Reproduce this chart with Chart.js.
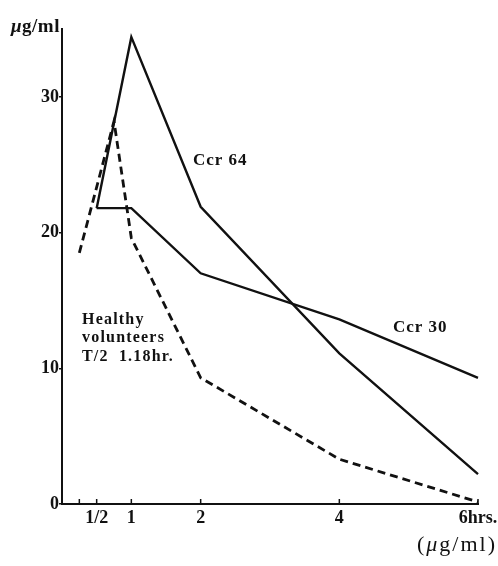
<!DOCTYPE html>
<html>
<head>
<meta charset="utf-8">
<script src="https://cdn.jsdelivr.net/npm/chart.js@4.4.1/dist/chart.umd.min.js"></script>
<style>
  html, body { margin: 0; padding: 0; background: #fff; }
  #wrap { position: relative; width: 498px; height: 566px; }
</style>
</head>
<body>
<div id="wrap"><canvas id="c" width="498" height="566"></canvas></div>
<script>
// Serum concentration (µg/ml) after dosing, by hours
const healthyHours = [0.25, 0.75, 1, 2, 4, 6];
const healthyLevels = [18.5, 28.2, 19.6, 9.3, 3.3, 0.15];

const ccr64Hours = [0.5, 1, 2, 4, 6];
const ccr64Levels = [21.8, 34.4, 21.9, 11.1, 2.2];

const ccr30Hours = [0.5, 1, 2, 4, 6];
const ccr30Levels = [21.8, 21.8, 17.0, 13.6, 9.3];

const xTickValues = [0.25, 0.5, 1, 2, 4, 6];
const xTickLabels = ['', '1/2', '1', '2', '4', '6hrs.'];
const yTickValues = [0, 10, 20, 30];

const toPoints = (xs, ys) => xs.map((x, i) => ({ x: x, y: ys[i] }));

const SERIF = "'Liberation Serif', 'DejaVu Serif', serif";

// Upward tick marks on the time axis
const innerTicks = {
  id: 'innerTicks',
  afterDatasetsDraw(chart) {
    const ctx = chart.ctx;
    const xs = chart.scales.x;
    const y0 = xs.top;
    ctx.save();
    ctx.strokeStyle = '#111';
    ctx.lineWidth = 1.5;
    xTickValues.forEach(v => {
      const px = xs.getPixelForValue(v);
      ctx.beginPath();
      ctx.moveTo(px, y0);
      ctx.lineTo(px, y0 - 5);
      ctx.stroke();
    });
    ctx.restore();
  }
};

// Writes a run of [text, font] pieces side by side
function drawRun(ctx, pieces, x, y) {
  pieces.forEach(([t, f]) => {
    ctx.font = f;
    ctx.fillText(t, x, y);
    x += ctx.measureText(t).width;
  });
}

// Unit captions and series labels
const captions = {
  id: 'captions',
  afterDraw(chart) {
    const ctx = chart.ctx;
    ctx.save();
    ctx.fillStyle = '#111';
    ctx.textBaseline = 'middle';
    ctx.textAlign = 'left';

    // axis unit, top-left
    ctx.letterSpacing = '0.5px';
    drawRun(ctx, [['\u03bc', "italic bold 19px " + SERIF], ['g/ml', "bold 19px " + SERIF]], 11, 27);

    // unit, bottom-right
    ctx.letterSpacing = '2px';
    drawRun(ctx, [
      ['(', "22px " + SERIF],
      ['\u03bc', "italic 22px " + SERIF],
      ['g/ml)', "22px " + SERIF]
    ], 417, 545);

    // series labels
    ctx.letterSpacing = '1px';
    ctx.font = "bold 17px " + SERIF;
    ctx.fillText('Ccr 64', 193, 161);
    ctx.fillText('Ccr 30', 393, 328);

    ctx.font = "bold 16px " + SERIF;
    ctx.letterSpacing = '1.2px';
    ctx.wordSpacing = '5px';
    ctx.fillText('Healthy', 82, 320);
    ctx.fillText('volunteers', 82, 338);
    ctx.fillText('T/2 1.18hr.', 82, 357);
    ctx.restore();
  }
};

new Chart(document.getElementById('c'), {
  type: 'line',
  data: {
    datasets: [
      {
        label: 'Healthy volunteers',
        data: toPoints(healthyHours, healthyLevels),
        borderColor: '#111',
        borderWidth: 2.8,
        borderDash: [8, 5],
        pointRadius: 0,
        tension: 0,
        fill: false
      },
      {
        label: 'Ccr 64',
        data: toPoints(ccr64Hours, ccr64Levels),
        borderColor: '#111',
        borderWidth: 2.4,
        pointRadius: 0,
        tension: 0,
        fill: false
      },
      {
        label: 'Ccr 30',
        data: toPoints(ccr30Hours, ccr30Levels),
        borderColor: '#111',
        borderWidth: 2.4,
        pointRadius: 0,
        tension: 0,
        fill: false
      }
    ]
  },
  options: {
    responsive: false,
    animation: false,
    devicePixelRatio: 1,
    clip: false,
    layout: { padding: { top: 29, right: 20, left: 0, bottom: 0 } },
    plugins: {
      legend: { display: false },
      tooltip: { enabled: false },
      title: { display: false }
    },
    scales: {
      x: {
        type: 'linear',
        min: 0,
        max: 6,
        afterFit(scale) { scale.height = 62; },
        afterBuildTicks(scale) { scale.ticks = xTickValues.map(v => ({ value: v })); },
        grid: { display: false },
        border: { display: true, color: '#111', width: 2 },
        ticks: {
          color: '#111',
          padding: -4,
          maxRotation: 0,
          autoSkip: false,
          font: { family: SERIF, size: 18, weight: 'bold' },
          callback: (v, i) => xTickLabels[i]
        }
      },
      y: {
        type: 'linear',
        min: 0,
        max: 35,
        afterFit(scale) { scale.width = 62; },
        afterBuildTicks(scale) { scale.ticks = yTickValues.map(v => ({ value: v })); },
        grid: { drawOnChartArea: false, tickLength: 3, color: '#111', lineWidth: 1.5 },
        border: { display: true, color: '#111', width: 2 },
        ticks: {
          color: '#111',
          padding: 0,
          font: { family: SERIF, size: 18, weight: 'bold' },
          callback: v => String(v)
        }
      }
    }
  },
  plugins: [innerTicks, captions]
});
</script>
</body>
</html>
